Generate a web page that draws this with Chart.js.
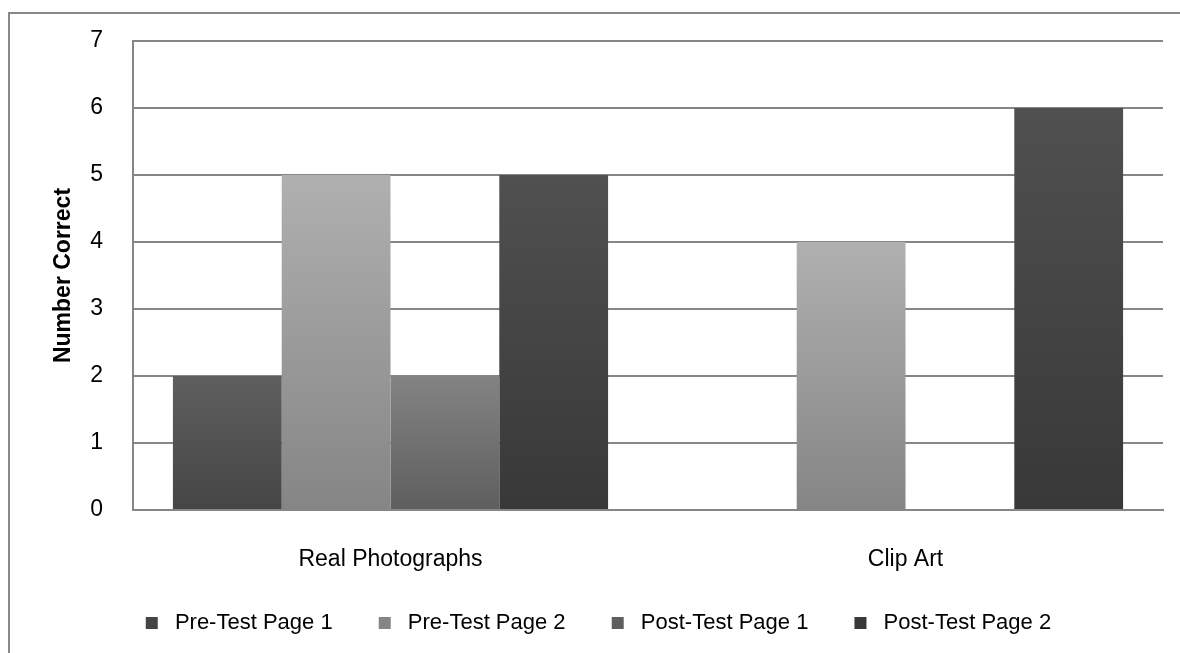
<!DOCTYPE html>
<html>
<head>
<meta charset="utf-8">
<script src="https://cdn.jsdelivr.net/npm/chart.js@4/dist/chart.umd.min.js"></script>
<style>
  body { margin: 0; background: #fff; }
  #wrap { width: 1180px; height: 653px; }
</style>
</head>
<body>
<div id="wrap"><canvas id="myChart" width="1180" height="653"></canvas></div>
<script>
//Chart data
const categories = ["Real Photographs", "Clip Art"];
const seriesNames = ["Pre-Test Page 1", "Pre-Test Page 2", "Post-Test Page 1", "Post-Test Page 2"];
const preTest1 = [2, 0];
const preTest2 = [5, 4];
const postTest1 = [2, 0];
const postTest2 = [5, 6];
const yTicks = [0, 1, 2, 3, 4, 5, 6, 7];

// top / middle / bottom shade of each bar
const shades = [
  ["#5f5f5f", "#525252", "#454545"],
  ["#b0b0b0", "#9c9c9c", "#858585"],
  ["#838383", "#717171", "#5e5e5e"],
  ["#505050", "#444444", "#383838"],
];

const FONT = "'Liberation Sans', Arial, sans-serif";

// vertical gradient from top of each bar to its base
const barFill = (i) => (ctx) => {
  const chart = ctx.chart;
  const [top, mid, bottom] = shades[i];
  if (!chart.chartArea || ctx.type !== "data") return mid;
  const y = chart.scales.y;
  const y0 = y.getPixelForValue(0);
  const y1 = y.getPixelForValue(ctx.raw);
  if (Math.abs(y0 - y1) < 1) return bottom;
  const g = chart.ctx.createLinearGradient(0, y1, 0, y0);
  g.addColorStop(0, top);
  g.addColorStop(1, bottom);
  return g;
};

//frame round the whole chart (only left and top visible)
const frame = {
  id: "frame",
  beforeDraw(chart) {
    const c = chart.ctx;
    c.save();
    c.strokeStyle = "#888888";
    c.lineWidth = 2;
    c.beginPath();
    c.moveTo(9, chart.height + 5);
    c.lineTo(9, 13);
    c.lineTo(chart.width + 5, 13);
    c.stroke();
    c.restore();
  },
};

const allSeries = [preTest1, preTest2, postTest1, postTest2];

var ctx = document.getElementById("myChart").getContext("2d");
var chart = new Chart(ctx, {
  type: "bar",
  data: {
    labels: categories,
    datasets: allSeries.map((vals, i) => ({
      label: seriesNames[i],
      data: vals,
      backgroundColor: barFill(i),
      borderWidth: 0,
      categoryPercentage: 0.845,
      barPercentage: 1.0,
    })),
  },
  options: {
    responsive: false,
    animation: false,
    layout: { padding: { left: 40, right: 17, top: 41, bottom: 9 } },
    plugins: {
      tooltip: { enabled: false },
      legend: {
        position: "bottom",
        labels: {
          boxWidth: 12,
          boxHeight: 12,
          padding: 40,
          color: "#000",
          font: { family: FONT, size: 22 },
          // a space either side of the name, like the wider legend gaps of the original
          generateLabels: (chart) =>
            Chart.defaults.plugins.legend.labels.generateLabels(chart).map((item) => {
              item.text = " " + item.text + " ";
              return item;
            }),
        },
      },
    },
    scales: {
      x: {
        grid: { display: false },
        border: { display: true, color: "#868686", width: 2 },
        ticks: { padding: 28, color: "#000", font: { family: FONT, size: 23 } },
        afterFit: (scale) => { scale.height = 62; },
      },
      y: {
        min: 0,
        max: 7,
        afterBuildTicks: (scale) => { scale.ticks = yTicks.map((v) => ({ value: v })); },
        grid: { color: "#868686", lineWidth: 2, drawTicks: false },
        border: { display: true, color: "#868686", width: 2 },
        ticks: { padding: 30, color: "#000", font: { family: FONT, size: 23 } },
        title: {
          display: true,
          text: "Number Correct",
          color: "#000",
          padding: { top: 10, bottom: 0 },
          font: { family: FONT, size: 23, weight: "bold" },
        },
        afterFit: (scale) => {
          scale.width = 93;
          // tick padding is horizontal here, do not let it push the plot down
          scale.paddingTop = 14;
          scale.paddingBottom = 14;
        },
      },
    },
  },
  plugins: [frame],
});
</script>
</body>
</html>
